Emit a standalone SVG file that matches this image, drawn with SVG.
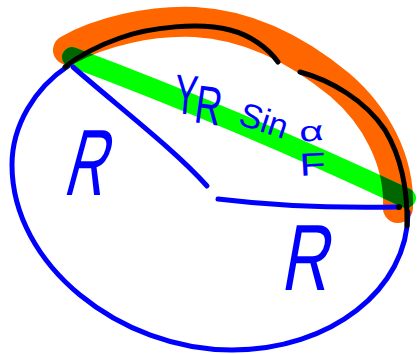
<svg xmlns="http://www.w3.org/2000/svg" width="419" height="354" viewBox="0 0 419 354">
<style>
.ink{fill:none;stroke-linecap:round;stroke-linejoin:round}
.blue{stroke:#0000FF;stroke-width:5}
.hw{font-family:"Liberation Sans",Arial,sans-serif;fill:#0000FF}
</style>
<defs>
<mask id="hlMask" maskUnits="userSpaceOnUse" x="0" y="0" width="419" height="354">
<rect x="0" y="0" width="419" height="354" fill="#000000"/>
<path d="M68,50 C100,32 150,20 195,22 C250,25 300,52 340,85 C375,115 400,160 398,208" fill="none" stroke="#FFFFFF" stroke-width="30" stroke-linecap="round"/>
</mask>
</defs>
<rect width="419" height="354" fill="#FFFFFF"/>
<g id="arc-highlight">
<path class="ink" d="M68,50 C100,32 150,20 195,22 C250,25 300,52 340,85 C375,115 400,160 398,208" stroke="#FF6600" stroke-width="30"/>
</g>
<g id="chord">
<path class="ink" d="M72,57 Q240,120 406,198" stroke="#00FF00" stroke-width="20"/>
<g mask="url(#hlMask)">
<path class="ink" d="M72,57 Q240,120 406,198" stroke="#006600" stroke-width="20"/>
</g>
</g>
<g id="circle">
<path class="ink blue" d="M68,66 C35,88 12,125 12,165 C12,265 120,350 232,350 C330,350 408,290 408,212"/>
</g>
<g id="arc">
<path class="ink" stroke="#000000" stroke-width="5" d="M65,67 C80,55 100,45 120,38 C150,27 200,22 230,30 C250,35 268,48 278,62"/>
<path class="ink" stroke="#000000" stroke-width="5" d="M300,72 C330,80 365,100 385,130 C400,155 408,185 407,226"/>
</g>
<g id="radii">
<path class="ink blue" d="M73,67 C120,108 175,150 207,186"/>
<path class="ink blue" d="M218,199 Q300,209 398,207"/>
<circle cx="399" cy="207" r="3" fill="#000000"/>
</g>
<g id="labels">
<text class="hw" font-size="94" transform="translate(62,195) skewX(-15) scale(0.6,1)">R</text>
<text class="hw" font-size="94" transform="translate(280,290) skewX(-10) scale(0.7,1)">R</text>
<text class="hw" font-size="56" transform="translate(173,113) rotate(5) scale(0.62,1)">Y</text>
<text class="hw" font-size="54" transform="translate(193,122) rotate(8) scale(0.68,1)">R</text>
<text class="hw" font-size="34" transform="translate(237,124) rotate(18)">Sin</text>
<text class="hw" font-size="28" transform="translate(300,142) rotate(-5) scale(1.5,1)">α</text>
<text class="hw" font-size="32" transform="translate(300,176) rotate(-3) scale(1.35,1)">F</text>
</g>
</svg>
